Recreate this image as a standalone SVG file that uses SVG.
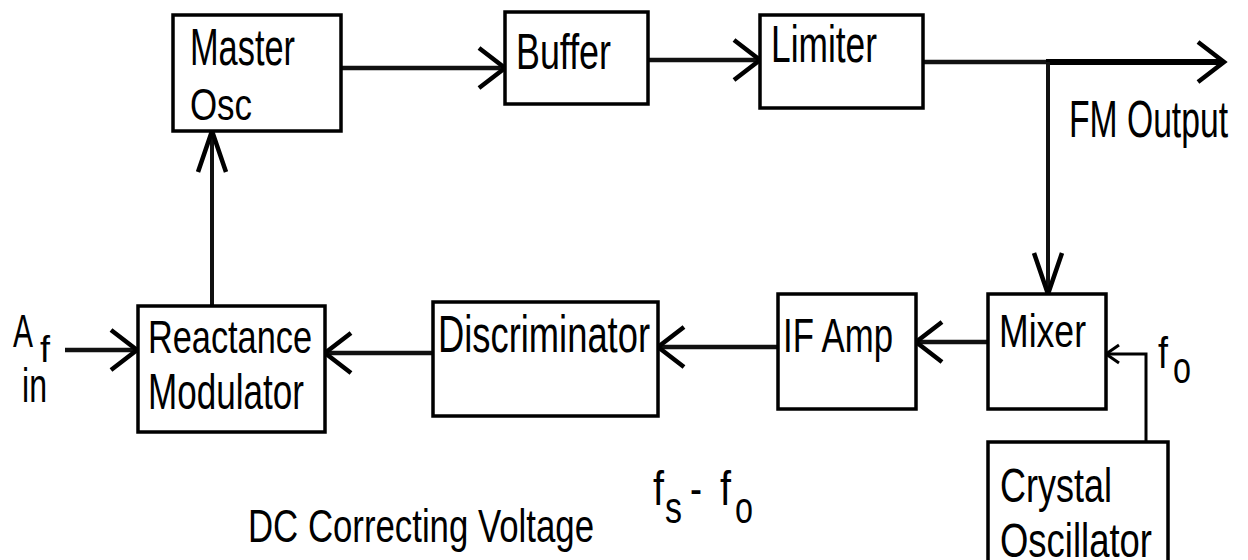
<svg xmlns="http://www.w3.org/2000/svg" width="1248" height="560" viewBox="0 0 1248 560">
<style>
.box{fill:#fff;stroke:#000;stroke-width:3.5}
.t{font-family:"Liberation Sans",Arial,sans-serif;fill:#000}
.c{fill:none;stroke:#111;stroke-width:4.5}
.thin{fill:none;stroke:#000;stroke-width:3}
.ah{fill:none;stroke:#000;stroke-width:4.5;stroke-linejoin:miter}
</style>
<defs>
<marker id="h" markerUnits="userSpaceOnUse" viewBox="-32 -26 36 52" markerWidth="36" markerHeight="52" refX="0" refY="0" orient="auto">
<path class="ah" d="M-26,-20 L0,0 L-26,20"/>
</marker>
<marker id="v" markerUnits="userSpaceOnUse" viewBox="-46 -20 50 40" markerWidth="50" markerHeight="40" refX="0" refY="0" orient="auto">
<path class="ah" d="M-41,-14 L0,0 L-41,14"/>
</marker>
<marker id="s" markerUnits="userSpaceOnUse" viewBox="-16 -12 20 24" markerWidth="20" markerHeight="24" refX="0" refY="0" orient="auto">
<path class="ah" style="stroke-width:3" d="M-13,-9 L0,0 L-13,9"/>
</marker>
</defs>
<g id="connectors">
<path class="c" d="M341,68 H505" marker-end="url(#h)"/>
<path class="c" d="M648,60 H760" marker-end="url(#h)"/>
<path class="c" d="M923,62 H1048"/>
<path class="c" style="stroke:#000;stroke-width:6" d="M1046,62 H1224" marker-end="url(#h)"/>
<path class="c" style="stroke-width:4" d="M1048,62 V294" marker-end="url(#v)"/>
<path class="c" d="M988,342 H916" marker-end="url(#h)"/>
<path class="c" d="M778,347 H658" marker-end="url(#h)"/>
<path class="c" d="M433,353 H325" marker-end="url(#h)"/>
<path class="c" d="M65,350 H137" marker-end="url(#h)"/>
<path class="c" style="stroke-width:4" d="M212,306 V131" marker-end="url(#v)"/>
<path class="thin" d="M1146,442 V354 H1106" marker-end="url(#s)"/>
</g>
<g id="master-osc">
<rect class="box" x="173" y="15" width="168" height="116"/>
<text class="t" x="190" y="65" font-size="52" textLength="105" lengthAdjust="spacingAndGlyphs">Master</text>
<text class="t" x="190" y="120" font-size="44" textLength="62" lengthAdjust="spacingAndGlyphs">Osc</text>
</g>
<g id="buffer">
<rect class="box" x="505" y="12" width="143" height="92"/>
<text class="t" x="516" y="69" font-size="50" textLength="95" lengthAdjust="spacingAndGlyphs">Buffer</text>
</g>
<g id="limiter">
<rect class="box" x="760" y="15" width="163" height="93"/>
<text class="t" x="771" y="62" font-size="52" textLength="106" lengthAdjust="spacingAndGlyphs">Limiter</text>
</g>
<g id="fm-output">
<text class="t" x="1069" y="137" font-size="52" textLength="159" lengthAdjust="spacingAndGlyphs">FM Output</text>
</g>
<g id="mixer">
<rect class="box" x="988" y="294" width="118" height="115"/>
<text class="t" x="999" y="347" font-size="47" textLength="87" lengthAdjust="spacingAndGlyphs">Mixer</text>
</g>
<g id="if-amp">
<rect class="box" x="778" y="294" width="138" height="115"/>
<text class="t" x="783" y="352" font-size="49" textLength="110" lengthAdjust="spacingAndGlyphs">IF Amp</text>
</g>
<g id="discriminator">
<rect class="box" x="433" y="302" width="225" height="114"/>
<text class="t" x="438" y="352" font-size="52" textLength="212" lengthAdjust="spacingAndGlyphs">Discriminator</text>
</g>
<g id="reactance-modulator">
<rect class="box" x="138" y="306" width="187" height="126"/>
<text class="t" x="148" y="353" font-size="46" textLength="164" lengthAdjust="spacingAndGlyphs">Reactance</text>
<text class="t" x="148" y="409" font-size="50" textLength="156" lengthAdjust="spacingAndGlyphs">Modulator</text>
</g>
<g id="crystal-oscillator">
<rect class="box" x="988" y="442" width="180" height="140"/>
<text class="t" x="1000" y="502" font-size="49" textLength="112" lengthAdjust="spacingAndGlyphs">Crystal</text>
<text class="t" x="1000" y="557" font-size="49" textLength="152" lengthAdjust="spacingAndGlyphs">Oscillator</text>
</g>
<g id="af-in">
<text class="t" x="13" y="347" font-size="47" textLength="20" lengthAdjust="spacingAndGlyphs">A</text>
<text class="t" x="40" y="362" font-size="37" textLength="10" lengthAdjust="spacingAndGlyphs">f</text>
<text class="t" x="22" y="402" font-size="49" textLength="25" lengthAdjust="spacingAndGlyphs">in</text>
</g>
<g id="fo-label">
<text class="t" x="1158" y="368" font-size="45" textLength="10" lengthAdjust="spacingAndGlyphs">f</text>
<text class="t" x="1173" y="383" font-size="44" textLength="18" lengthAdjust="spacingAndGlyphs">o</text>
</g>
<g id="fs-fo-label">
<text class="t" x="653" y="505" font-size="48" textLength="11" lengthAdjust="spacingAndGlyphs">f</text>
<text class="t" x="665" y="523" font-size="44" textLength="17" lengthAdjust="spacingAndGlyphs">s</text>
<text class="t" x="690" y="505" font-size="48" textLength="12" lengthAdjust="spacingAndGlyphs">-</text>
<text class="t" x="720" y="505" font-size="48" textLength="11" lengthAdjust="spacingAndGlyphs">f</text>
<text class="t" x="735" y="523" font-size="44" textLength="18" lengthAdjust="spacingAndGlyphs">o</text>
</g>
<g id="dc-label">
<text class="t" x="248" y="542" font-size="47" textLength="346" lengthAdjust="spacingAndGlyphs">DC Correcting Voltage</text>
</g>
</svg>
